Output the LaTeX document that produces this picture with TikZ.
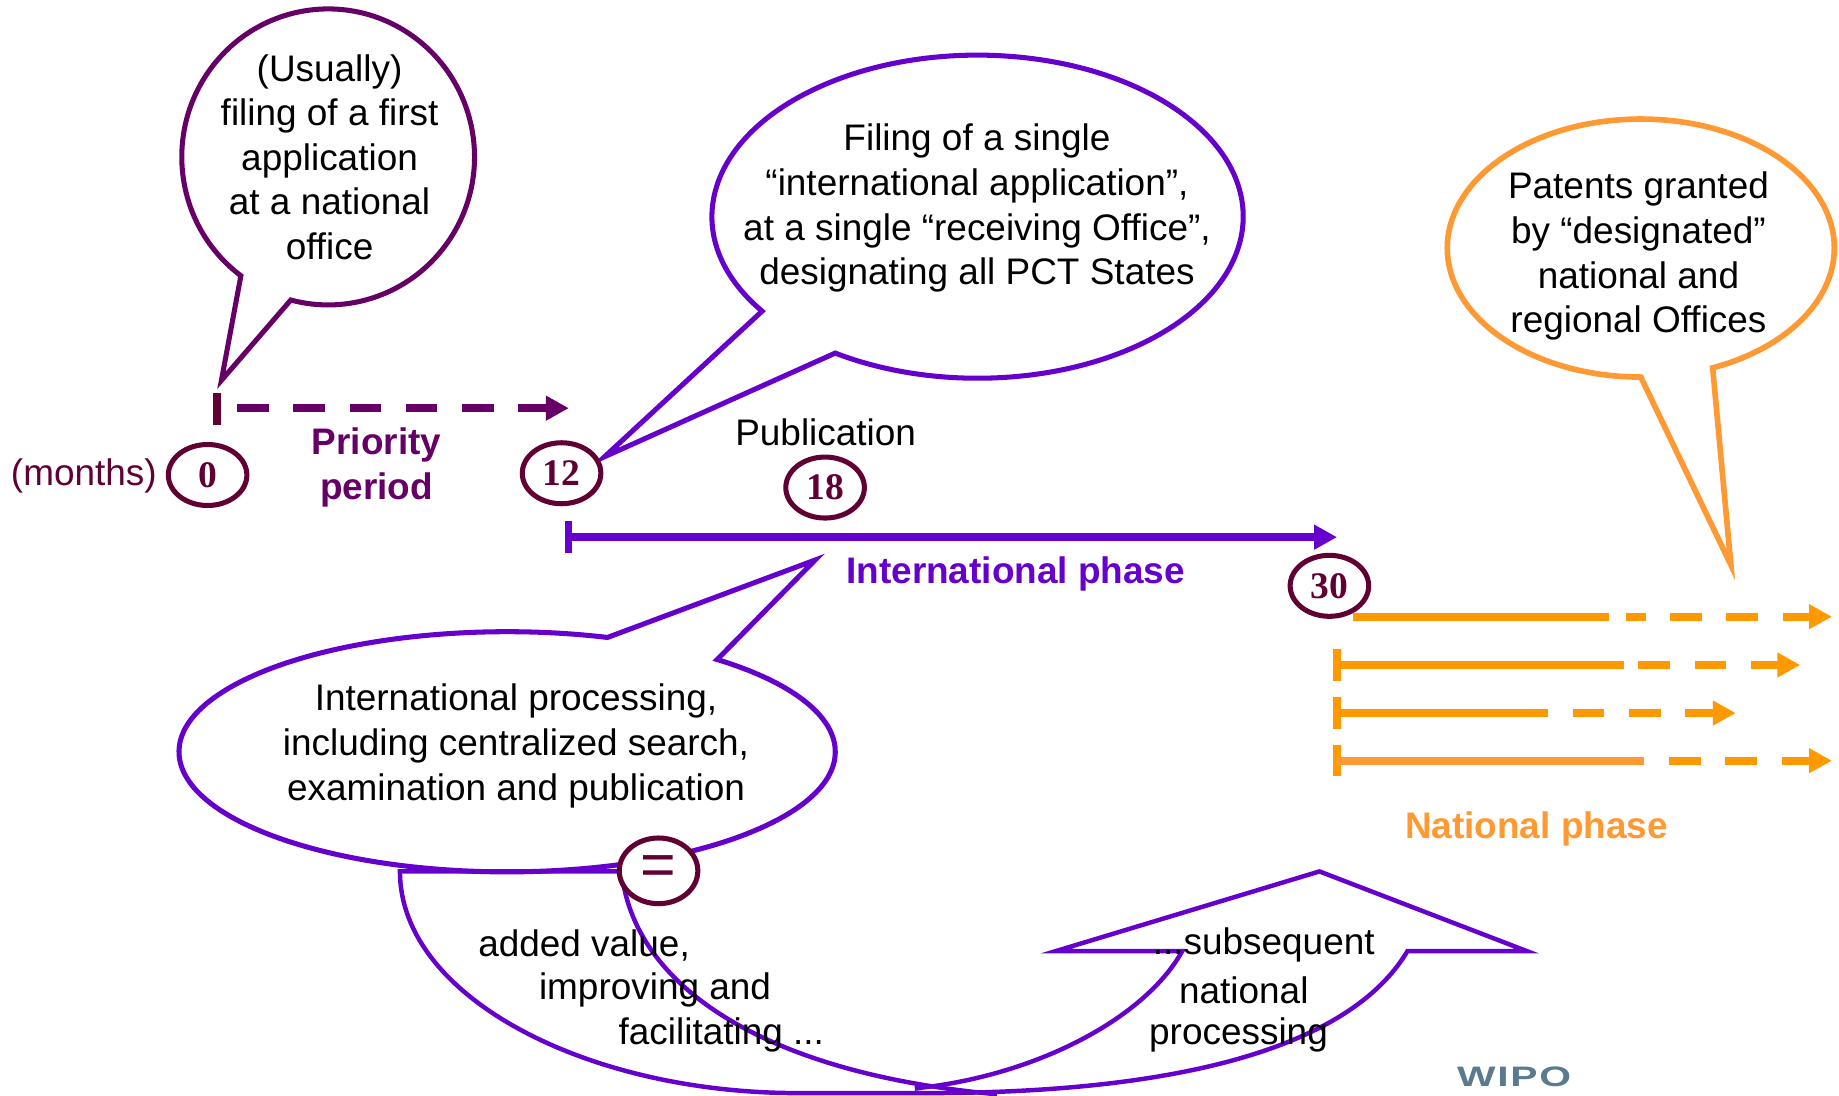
\documentclass[tikz,border=0pt]{standalone}
\usepackage{fontspec}
\setmainfont{Liberation Sans}
\newfontfamily\numfont{Liberation Serif}
\usetikzlibrary{arrows.meta,shapes.geometric}

\definecolor{plum}{RGB}{102,0,102}
\definecolor{wine}{RGB}{96,0,51}
\definecolor{pctviolet}{RGB}{102,0,204}
\definecolor{natorange}{RGB}{255,153,0}
\definecolor{softorange}{RGB}{255,153,51}
\definecolor{logogray}{RGB}{90,122,145}

\begin{document}
\begin{tikzpicture}[x=1pt,y=-1pt,
  bubble/.style={line width=4.3pt,fill=white,line join=miter},
  bubbletext/.style={font=\fontsize{31.5}{38}\selectfont,align=center,inner sep=0pt,text=black},
  plaintext/.style={font=\fontsize{31.5}{38}\selectfont,inner sep=0pt,text=black},
  phase/.style={font=\fontsize{31.5}{38}\selectfont\bfseries,align=center,inner sep=0pt},
  month/.style={ellipse,draw=wine,line width=4.3pt,fill=white,minimum width=67pt,
    minimum height=52pt,inner sep=0pt,text=wine,
    font=\numfont\bfseries\fontsize{32}{32}\selectfont},
  timeline/.style={line width=6.8pt},
  tickmark/.style={line width=6.2pt},
  pointed/.style={-{Triangle[length=19.5pt,width=20pt]}},
  dashes/.style={dash pattern=on 27pt off 21pt},
  curvedarrow/.style={draw=pctviolet,line width=3.8pt,line join=miter}
]
\useasboundingbox (0,0) rectangle (1568,934);

% ---- speech bubbles (ellipse + wedge) ----
\draw[bubble,draw=plum] (279.8,133.8) ++(126.6:124.8 and 126.2)
  arc[start angle=126.6,end angle=464.8,x radius=124.8,y radius=126.2]
  -- (188.8,324.3) -- cycle;
\draw[bubble,draw=pctviolet] (833.5,184.75) ++(144.2:226.5 and 137.75)
  arc[start angle=144.2,end angle=482.4,x radius=226.5,y radius=137.75]
  -- (515.5,389.4) -- cycle;
\draw[bubble,draw=softorange,line width=4.8pt] (1399,211.5) ++(90:165 and 110)
  arc[start angle=90,end angle=428.2,x radius=165,y radius=110]
  -- (1475.8,481.7) -- cycle;

% ---- priority period ----
\coordinate (prioTickTop) at (185,335);
\coordinate (prioTickBot) at (185,362);
\coordinate (prioStart) at (202,348);
\coordinate (prioEnd) at (485,348);
\draw[tickmark,wine] (prioTickTop) -- (prioTickBot);
\draw[timeline,plum,dashes,pointed] (prioStart) -- (prioEnd);

% ---- international phase ----
\coordinate (intTickTop) at (485,444.5);
\coordinate (intTickBot) at (485,471.5);
\coordinate (intStart) at (485,458);
\coordinate (intEnd) at (1140,458);
\draw[tickmark,pctviolet] (intTickTop) -- (intTickBot);
\draw[timeline,pctviolet,pointed] (intStart) -- (intEnd);

% ---- national phase lines ----
\coordinate (n1a) at (1154,525.8); \coordinate (n1b) at (1372,525.8);
\coordinate (n1c) at (1386,525.8); \coordinate (n1d) at (1562,525.8);
\draw[timeline,natorange] (n1a) -- (n1b);
\draw[timeline,natorange,dashes,dash phase=10pt,pointed] (n1c) -- (n1d);

\coordinate (n2t) at (1140,553.5); \coordinate (n2u) at (1140,580.5);
\coordinate (n2a) at (1140,567); \coordinate (n2b) at (1385,567);
\coordinate (n2c) at (1397,567); \coordinate (n2d) at (1535,567);
\draw[tickmark,natorange] (n2t) -- (n2u);
\draw[timeline,natorange] (n2a) -- (n2b);
\draw[timeline,natorange,dashes,pointed] (n2c) -- (n2d);

\coordinate (n3t) at (1140,594.5); \coordinate (n3u) at (1140,621.5);
\coordinate (n3a) at (1140,608); \coordinate (n3b) at (1320,608);
\coordinate (n3c) at (1341,608); \coordinate (n3d) at (1480,608);
\draw[tickmark,natorange] (n3t) -- (n3u);
\draw[timeline,natorange] (n3a) -- (n3b);
\draw[timeline,natorange,dashes,pointed] (n3c) -- (n3d);

\coordinate (n4t) at (1140,635); \coordinate (n4u) at (1140,662);
\coordinate (n4a) at (1140,648.6); \coordinate (n4b) at (1402,648.6);
\coordinate (n4c) at (1423,648.6); \coordinate (n4d) at (1562,648.6);
\draw[tickmark,natorange] (n4t) -- (n4u);
\draw[timeline,softorange] (n4a) -- (n4b);
\draw[timeline,natorange,dashes,pointed] (n4c) -- (n4d);

% ---- lower bubble ----
\draw[bubble,draw=pctviolet] (432.4,641) ++(-50.2:279.8 and 102.4)
  arc[start angle=-50.2,end angle=287.8,x radius=279.8,y radius=102.4]
  -- (695,477.5) -- cycle;

% ---- curved up arrow ----
\draw[curvedarrow] (530,743) -- (341,743)
  .. controls (341,850) and (500,932) .. (680,932) -- (790,932)
  .. controls (1000,932) and (1150,895) .. (1200,811)
  -- (1302,811) -- (1125,743) -- (900,811) -- (1008,811)
  .. controls (975,870) and (880,918) .. (780,928);
\draw[curvedarrow] (530,743) .. controls (540,840) and (650,915) .. (850,933);

% ---- month markers ----
\node[month] (m0) at (177,405) {0};
\node[month] (m12) at (478.8,403.5) {12};
\node[month] (m18) at (703.5,415.7) {18};
\node[month] (m30) at (1133.5,499.5) {30};
\node[month,minimum height=56pt,font=\fontsize{52}{52}\selectfont] (eq) at (561.5,742.5) {\raisebox{-3pt}{=}};

% ---- texts ----
\node[bubbletext] (t1) at (281,134) {(Usually)\\filing of a first\\application\\at a national\\office};
\node[bubbletext] (t2) at (833,177.5) {Filing of a single\\“international application”,\\at a single “receiving Office”,\\designating all PCT States};
\node[bubbletext] (t3) at (1397,218.5) {Patents granted\\by “designated”\\national and\\regional Offices};
\node[bubbletext] (t4) at (440,636) {International processing,\\including centralized search,\\examination and publication};

\node[plaintext,text=wine] (months) at (71.5,406) {(months)};
\node[phase,text=plum] (prio) at (321,398.5) {Priority\\period};
\node[plaintext] (pub) at (704,369) {Publication};
\node[phase,text=pctviolet] (intl) at (866,489) {International phase};
\node[phase,text=softorange] (natl) at (1310,707) {National phase};

\node[plaintext] (av1) at (498,806) {added value,};
\node[plaintext] (av2) at (558.5,844) {improving and};
\node[plaintext] (av3) at (615,882) {facilitating ...};
\node[plaintext] (sn1) at (1077.5,806) {...subsequent};
\node[plaintext] (sn2) at (1060.5,844) {national};
\node[plaintext] (sn3) at (1056,882) {processing};

\node[font=\fontsize{24}{24}\selectfont\bfseries,text=logogray,inner sep=0pt] (wipo) at (1291,918.5)
  {\scalebox{1.45}[1]{W\kern1pt I\kern1pt P\kern1pt O}};
\end{tikzpicture}
\end{document}
